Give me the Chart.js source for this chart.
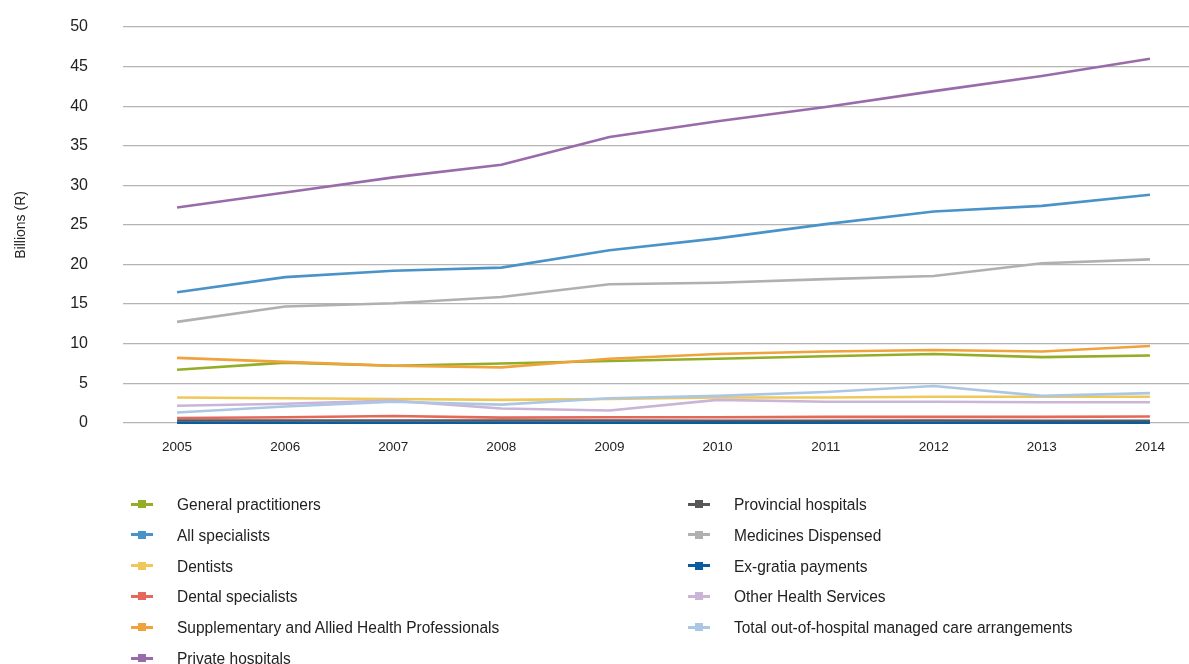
<!DOCTYPE html>
<html>
<head>
<meta charset="utf-8">
<title>Health expenditure by category</title>
<script src="https://cdn.jsdelivr.net/npm/chart.js@4.4.1/dist/chart.umd.min.js"></script>
<style>
    html, body { margin: 0; padding: 0; background: #fff; overflow: hidden; }
    body { width: 1189px; height: 664px; position: relative; font-family: "Liberation Sans", Arial, sans-serif; }
    #chartBox { position: absolute; left: 0; top: 0; width: 1204px; height: 471px; }
    #legend { position: absolute; left: 0; top: 0; width: 1189px; height: 664px; pointer-events: none; }
    .legendItem { position: absolute; height: 20px; color: #222; font-size: 15.5px; line-height: 20px; white-space: nowrap; }
    .legendItem .mark { position: absolute; left: 0; top: 8.5px; width: 22px; height: 3px; }
    .legendItem .mark span { position: absolute; left: 7px; top: -2.5px; width: 8px; height: 8px; }
    .legendItem .txt { position: absolute; left: 46px; top: 0; transform: scaleY(1.12); transform-origin: 0 50%; }
</style>
</head>
<body>
<div id="chartBox"><canvas id="healthChart"></canvas></div>
<div id="legend"></div>
<script>
"use strict"

/******************************************************************************/
// spending per category, billions of rand

const years = ['2005', '2006', '2007', '2008', '2009', '2010', '2011', '2012', '2013', '2014']
const yTicks = [0, 5, 10, 15, 20, 25, 30, 35, 40, 45, 50]

const generalPractitioners = [6.7, 7.6, 7.2, 7.5, 7.8, 8.1, 8.4, 8.7, 8.3, 8.5]
const allSpecialists = [16.5, 18.4, 19.2, 19.6, 21.8, 23.3, 25.1, 26.7, 27.4, 28.8]
const dentists = [3.2, 3.1, 3.0, 2.9, 3.0, 3.2, 3.2, 3.3, 3.3, 3.3]
const dentalSpecialists = [0.6, 0.7, 0.85, 0.65, 0.7, 0.7, 0.75, 0.75, 0.75, 0.8]
const supplementaryAllied = [8.2, 7.7, 7.2, 7.0, 8.1, 8.7, 9.0, 9.2, 9.0, 9.7]
const privateHospitals = [27.2, 29.1, 31.0, 32.6, 36.1, 38.1, 39.9, 41.9, 43.8, 46.0]
const provincialHospitals = [0.3, 0.3, 0.3, 0.3, 0.3, 0.25, 0.25, 0.3, 0.25, 0.25]
const medicinesDispensed = [12.75, 14.7, 15.1, 15.9, 17.5, 17.7, 18.15, 18.55, 20.15, 20.65]
const exGratiaPayments = [0, 0, 0, 0, 0, 0, 0, 0, 0, 0]
const otherHealthServices = [2.15, 2.4, 2.8, 1.8, 1.55, 2.9, 2.65, 2.65, 2.6, 2.6]
const outOfHospitalCare = [1.3, 2.05, 2.65, 2.3, 3.1, 3.4, 3.9, 4.65, 3.4, 3.75]

const series = [
    { label: 'General practitioners', data: generalPractitioners, color: '#93ae26' },
    { label: 'All specialists', data: allSpecialists, color: '#4a93c8' },
    { label: 'Dentists', data: dentists, color: '#f0c85a' },
    { label: 'Dental specialists', data: dentalSpecialists, color: '#e5685a' },
    { label: 'Supplementary and Allied Health Professionals', data: supplementaryAllied, color: '#f0a23c' },
    { label: 'Private hospitals', data: privateHospitals, color: '#9a6baa' },
    { label: 'Provincial hospitals', data: provincialHospitals, color: '#585858' },
    { label: 'Medicines Dispensed', data: medicinesDispensed, color: '#b0b0b0' },
    { label: 'Ex-gratia payments', data: exGratiaPayments, color: '#0b5c9e' },
    { label: 'Other Health Services', data: otherHealthServices, color: '#cab5d8' },
    { label: 'Total out-of-hospital managed care arrangements', data: outOfHospitalCare, color: '#abc7e4' }
]

/******************************************************************************/

// two-column legend under the plot, first six series on the left
let buildLegend = function(chart) {
    let box = document.getElementById('legend')
    chart.data.datasets.forEach((ds, i) => {
        let col = i < 6 ? 0 : 1
        let row = col ? i - 6 : i
        let item = document.createElement('div')
        item.className = 'legendItem'
        item.style.left = (col ? 688 : 131) + 'px'
        item.style.top = (494 + row * 30.8) + 'px'
        item.innerHTML = '<div class="mark" style="background:' + ds.borderColor + '">' +
            '<span style="background:' + ds.borderColor + '"></span></div>' +
            '<div class="txt">' + ds.label + '</div>'
        box.appendChild(item)
    })
}

let drawChart = function() {
    let ctx = document.getElementById('healthChart').getContext('2d')
    let chart = new Chart(ctx, {
        type: 'line',
        data: {
            labels: years,
            datasets: series.map((s, i) => ({
                label: s.label,
                data: s.data,
                borderColor: s.color,
                backgroundColor: s.color,
                borderWidth: 2.6,
                pointRadius: 0,
                tension: 0,
                clip: false,
                order: series.length - i
            }))
        },
        options: {
            responsive: true,
            maintainAspectRatio: false,
            animation: false,
            layout: { padding: { top: 27, bottom: 0, left: 0, right: 0 } },
            plugins: {
                legend: { display: false },
                tooltip: { enabled: false }
            },
            scales: {
                x: {
                    offset: true,
                    grid: { display: false, drawTicks: false },
                    border: { display: false },
                    ticks: {
                        color: '#222',
                        padding: 16,
                        maxRotation: 0,
                        font: { family: '"Liberation Sans", Arial, sans-serif', size: 13.5 }
                    }
                },
                y: {
                    min: 0,
                    max: 50,
                    afterBuildTicks: scale => {
                        scale.ticks = yTicks.map(v => ({ value: v }))
                    },
                    // fixed axis width; the big label gap should not eat vertical room
                    afterFit: scale => {
                        scale.width = 123
                        scale.paddingTop = 0
                        scale.paddingBottom = 0
                    },
                    grid: { color: '#b4b4b4', lineWidth: 1.2, drawTicks: false },
                    border: { display: false },
                    title: {
                        display: true,
                        text: 'Billions (R)',
                        color: '#222',
                        padding: { top: 13, bottom: 0 },
                        font: { family: '"Liberation Sans", Arial, sans-serif', size: 14 }
                    },
                    ticks: {
                        color: '#222',
                        padding: 35,
                        font: { family: '"Liberation Sans", Arial, sans-serif', size: 16 }
                    }
                }
            }
        }
    })
    buildLegend(chart)
}

drawChart()
</script>
</body>
</html>
